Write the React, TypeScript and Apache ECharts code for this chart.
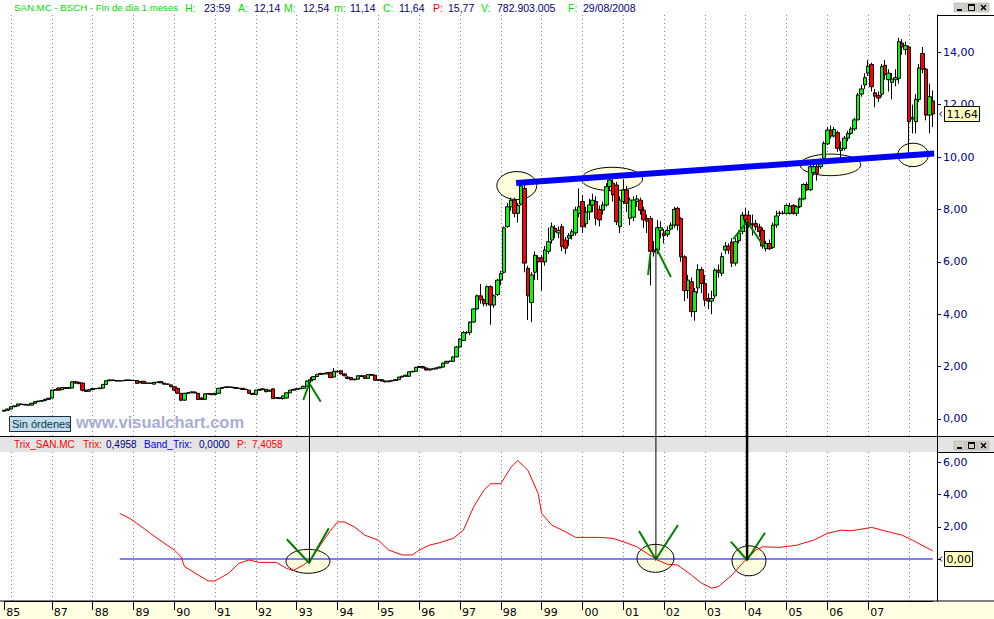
import { useEffect, useRef } from "react";
import * as echarts from "echarts";

// ---------------- data ----------------
const START_YEAR = 1985;
const START_MONTH = 11;
const BAR_COUNT = 274;

const months: string[] = [];
for (let i = 0; i < BAR_COUNT; i++) {
  const m0 = START_MONTH - 1 + i;
  const y = START_YEAR + Math.floor(m0 / 12);
  const m = (m0 % 12) + 1;
  months.push(`${y}-${m < 10 ? "0" + m : m}`);
}

// monthly OHLC, Nov 1985 .. Aug 2008
const opens = [
  0.30, 0.33,
  0.38, 0.47, 0.50, 0.57, 0.56, 0.54, 0.53, 0.60, 0.66, 0.68, 0.70, 0.75,
  0.80, 1.10, 1.18, 1.12, 1.20, 1.17, 1.18, 1.42, 1.40, 1.37, 1.10, 1.06,
  1.12, 1.16, 1.16, 1.18, 1.32, 1.46, 1.49, 1.47, 1.45, 1.46, 1.47, 1.49,
  1.47, 1.47, 1.38, 1.44, 1.37, 1.37, 1.33, 1.40, 1.43, 1.37, 1.33, 1.30,
  1.23, 1.17, 0.98, 0.72, 0.98, 1.00, 1.03, 0.98, 0.80, 0.75, 0.96, 0.96,
  0.93, 0.98, 1.17, 1.20, 1.22, 1.22, 1.20, 1.17, 1.17, 1.13, 1.10, 0.98,
  0.94, 1.10, 1.12, 1.13, 1.06, 1.15, 0.80, 0.81, 0.78, 0.80, 1.00, 1.10,
  1.13, 1.15, 1.17, 1.25, 1.45, 1.50, 1.62, 1.70, 1.74, 1.72, 1.77, 1.60,
  1.82, 1.84, 1.72, 1.60, 1.58, 1.50, 1.52, 1.65, 1.65, 1.55, 1.70, 1.67,
  1.48, 1.50, 1.45, 1.42, 1.45, 1.47, 1.50, 1.60, 1.63, 1.63, 1.80, 1.82,
  1.97, 2.00, 1.95, 1.87, 1.91, 1.91, 1.95, 1.98, 2.13, 2.20, 2.20, 2.37,
  2.75, 3.00, 3.30, 3.30, 3.70, 4.20, 4.70, 4.55, 4.40, 5.05, 4.35, 4.75,
  5.30, 5.60, 7.35, 8.10, 8.36, 7.85, 8.20, 8.80, 5.75, 4.45, 5.60, 6.15,
  6.15, 6.00, 6.40, 6.83, 7.28, 7.10, 7.34, 6.83, 6.90, 7.00, 7.10, 7.85,
  8.30, 7.45, 7.90, 8.17, 8.30, 8.00, 7.97, 8.17, 8.87, 9.00, 8.93, 7.34,
  8.30, 8.74, 7.66, 7.70, 8.30, 8.35, 7.97, 7.65, 7.65, 6.45, 6.45, 7.20,
  7.10, 7.05, 7.25, 7.40, 8.04, 7.65, 6.19, 4.90, 5.24, 4.10, 5.00, 5.70,
  5.17, 4.60, 4.50, 4.70, 5.68, 5.56, 6.45, 6.60, 6.75, 5.95, 6.80, 7.15,
  7.78, 7.78, 7.45, 7.46, 7.33, 7.20, 6.50, 6.70, 6.55, 7.40, 7.85, 7.85,
  7.85, 7.85, 8.15, 7.85, 8.10, 8.40, 8.95, 8.75, 9.40, 9.63, 9.63, 9.95,
  10.50, 11.03, 10.80, 10.93, 10.25, 10.33, 10.72, 10.90, 11.07, 11.42, 12.40, 12.75,
  13.20, 13.53, 12.45, 12.35, 12.40, 13.50, 12.95, 12.85, 12.95, 13.00, 14.35, 14.10,
  14.20, 11.45, 11.35, 12.20, 13.95, 13.35, 11.60, 12.14,
];
const closes = [
  0.33, 0.38,
  0.47, 0.50, 0.57, 0.56, 0.54, 0.53, 0.60, 0.66, 0.68, 0.70, 0.75, 0.79,
  1.10, 1.12, 1.10, 1.20, 1.17, 1.20, 1.42, 1.37, 1.35, 1.10, 1.05, 1.12,
  1.16, 1.16, 1.18, 1.32, 1.46, 1.49, 1.47, 1.45, 1.46, 1.47, 1.49, 1.47,
  1.47, 1.36, 1.43, 1.36, 1.37, 1.36, 1.40, 1.40, 1.38, 1.33, 1.33, 1.23,
  1.10, 0.98, 0.72, 0.98, 1.00, 1.03, 1.00, 0.75, 0.75, 0.96, 0.96, 0.93,
  0.98, 1.17, 1.20, 1.22, 1.22, 1.20, 1.17, 1.17, 1.13, 1.13, 0.98, 0.94,
  1.10, 1.13, 1.15, 1.04, 1.10, 0.78, 0.81, 0.78, 0.88, 1.00, 1.10, 1.13,
  1.15, 1.17, 1.25, 1.45, 1.50, 1.62, 1.70, 1.74, 1.72, 1.77, 1.58, 1.82,
  1.80, 1.72, 1.65, 1.55, 1.50, 1.52, 1.65, 1.62, 1.55, 1.70, 1.67, 1.48,
  1.50, 1.45, 1.42, 1.45, 1.47, 1.50, 1.60, 1.63, 1.67, 1.80, 1.82, 1.97,
  2.00, 1.95, 1.87, 1.91, 1.91, 1.95, 1.98, 2.13, 2.20, 2.20, 2.37, 2.75,
  3.05, 3.30, 3.30, 3.70, 4.20, 4.70, 4.55, 4.40, 5.05, 4.35, 4.70, 5.30,
  5.55, 7.30, 8.10, 8.35, 7.85, 8.15, 8.90, 5.95, 4.70, 5.50, 6.25, 6.00,
  6.00, 6.45, 6.77, 7.34, 7.15, 7.20, 6.58, 6.52, 7.00, 7.15, 7.98, 8.10,
  7.34, 7.90, 8.17, 8.35, 7.66, 7.60, 8.17, 8.87, 9.12, 8.55, 7.53, 8.36,
  8.74, 8.23, 8.36, 8.36, 8.40, 7.97, 7.60, 7.55, 6.40, 6.37, 7.30, 7.30,
  7.00, 7.20, 7.40, 8.00, 7.40, 6.19, 4.90, 5.30, 4.10, 4.86, 5.70, 5.17,
  4.54, 4.50, 4.60, 5.68, 5.60, 6.20, 6.60, 6.45, 5.95, 6.77, 7.10, 7.78,
  7.60, 7.47, 7.40, 7.33, 7.15, 6.60, 6.70, 6.50, 7.40, 7.75, 7.85, 7.85,
  8.15, 8.12, 7.85, 8.10, 8.40, 8.95, 8.75, 9.63, 9.63, 9.37, 9.88, 10.52,
  11.03, 10.80, 11.05, 10.33, 10.33, 10.72, 10.90, 11.07, 11.42, 12.37, 12.60, 13.03,
  13.47, 12.68, 12.32, 12.25, 13.45, 13.15, 13.20, 12.97, 13.03, 14.40, 14.20, 14.25,
  11.35, 11.50, 12.20, 13.40, 13.35, 11.60, 12.30, 11.64,
];
const lows = [
  0.28, 0.32,
  0.37, 0.45, 0.49, 0.54, 0.52, 0.51, 0.52, 0.59, 0.64, 0.67, 0.69, 0.74,
  0.79, 1.07, 1.08, 1.10, 1.14, 1.15, 1.17, 1.35, 1.33, 1.05, 1.03, 1.05,
  1.10, 1.14, 1.15, 1.17, 1.31, 1.45, 1.46, 1.44, 1.44, 1.45, 1.46, 1.46,
  1.45, 1.35, 1.37, 1.35, 1.35, 1.35, 1.32, 1.38, 1.37, 1.32, 1.31, 1.22,
  1.08, 0.96, 0.68, 0.70, 0.96, 0.99, 0.98, 0.73, 0.72, 0.74, 0.94, 0.91,
  0.92, 0.97, 1.16, 1.19, 1.20, 1.19, 1.16, 1.15, 1.12, 1.11, 0.97, 0.92,
  0.93, 1.09, 1.11, 1.03, 1.05, 0.76, 0.78, 0.76, 0.74, 0.78, 0.99, 1.09,
  1.12, 1.14, 1.16, 1.24, 1.38, 1.49, 1.60, 1.68, 1.70, 1.71, 1.56, 1.59,
  1.78, 1.70, 1.63, 1.52, 1.48, 1.48, 1.51, 1.60, 1.54, 1.54, 1.65, 1.46,
  1.45, 1.43, 1.40, 1.41, 1.44, 1.46, 1.49, 1.59, 1.62, 1.62, 1.78, 1.81,
  1.95, 1.93, 1.85, 1.86, 1.89, 1.90, 1.93, 1.97, 2.12, 2.18, 2.19, 2.36,
  2.73, 2.98, 3.25, 3.20, 3.68, 4.18, 4.40, 4.30, 4.30, 3.60, 4.25, 4.70,
  5.10, 5.55, 7.30, 7.95, 7.70, 7.50, 8.15, 5.60, 3.78, 3.70, 5.30, 5.30,
  4.90, 5.85, 6.30, 6.70, 6.90, 6.90, 6.40, 6.30, 6.60, 6.85, 7.00, 7.70,
  7.10, 7.30, 7.60, 7.90, 7.40, 7.35, 7.80, 8.10, 8.70, 8.30, 7.40, 7.10,
  8.20, 7.90, 7.40, 7.55, 8.10, 7.80, 7.30, 7.10, 5.10, 6.20, 6.30, 6.90,
  6.70, 6.95, 7.20, 7.30, 7.20, 6.00, 4.50, 4.60, 3.90, 3.75, 4.80, 4.80,
  4.30, 4.20, 4.00, 4.60, 5.40, 5.45, 6.30, 6.30, 5.80, 5.85, 6.70, 7.05,
  7.40, 7.30, 7.00, 7.20, 6.95, 6.50, 6.40, 6.45, 6.50, 7.30, 7.75, 7.80,
  7.80, 7.80, 7.80, 7.75, 8.05, 8.35, 8.70, 8.70, 9.30, 9.10, 9.55, 9.90,
  10.45, 10.70, 10.75, 10.20, 9.80, 10.25, 10.60, 10.85, 11.00, 11.40, 12.30, 12.60,
  13.10, 12.50, 11.90, 12.10, 12.30, 12.95, 12.50, 12.20, 12.70, 12.80, 13.90, 13.90,
  10.10, 10.90, 10.90, 12.10, 13.20, 11.40, 10.90, 11.14,
];
const highs = [
  0.35, 0.40,
  0.49, 0.52, 0.59, 0.59, 0.57, 0.55, 0.61, 0.67, 0.70, 0.72, 0.77, 0.81,
  1.12, 1.15, 1.20, 1.22, 1.22, 1.22, 1.44, 1.45, 1.42, 1.39, 1.12, 1.14,
  1.17, 1.18, 1.20, 1.34, 1.48, 1.51, 1.50, 1.48, 1.47, 1.48, 1.50, 1.50,
  1.49, 1.48, 1.44, 1.45, 1.38, 1.38, 1.41, 1.42, 1.44, 1.38, 1.35, 1.31,
  1.24, 1.18, 0.99, 1.00, 1.02, 1.05, 1.04, 0.99, 0.82, 0.97, 0.98, 0.97,
  1.00, 1.19, 1.22, 1.24, 1.24, 1.23, 1.21, 1.19, 1.18, 1.15, 1.11, 0.99,
  1.12, 1.15, 1.17, 1.14, 1.12, 1.16, 0.83, 0.82, 0.89, 1.01, 1.11, 1.15,
  1.17, 1.19, 1.27, 1.47, 1.60, 1.64, 1.72, 1.76, 1.76, 1.79, 1.80, 1.95,
  1.86, 1.85, 1.74, 1.62, 1.59, 1.54, 1.66, 1.67, 1.66, 1.71, 1.72, 1.68,
  1.52, 1.51, 1.47, 1.47, 1.49, 1.52, 1.61, 1.65, 1.69, 1.81, 1.84, 1.99,
  2.03, 2.02, 1.97, 1.93, 1.93, 1.97, 2.00, 2.15, 2.22, 2.23, 2.39, 2.78,
  3.08, 3.35, 3.35, 3.72, 4.22, 4.75, 5.15, 4.60, 5.10, 5.10, 4.75, 5.35,
  5.65, 7.35, 8.25, 8.45, 8.45, 8.25, 9.10, 8.95, 5.85, 5.60, 6.40, 6.25,
  6.25, 6.60, 7.30, 7.50, 7.40, 7.35, 7.45, 6.95, 7.10, 7.25, 8.10, 8.80,
  8.55, 8.10, 8.40, 8.60, 8.50, 8.15, 8.30, 9.00, 9.25, 9.20, 9.05, 8.50,
  9.15, 8.90, 8.45, 8.50, 8.55, 8.45, 8.10, 7.80, 7.75, 6.80, 7.60, 7.55,
  7.25, 7.35, 7.50, 8.10, 8.10, 7.70, 6.25, 5.50, 5.40, 5.00, 5.90, 5.80,
  5.50, 4.80, 4.90, 5.75, 5.90, 6.35, 6.75, 6.70, 6.90, 6.90, 7.20, 7.90,
  8.05, 7.95, 7.80, 7.60, 7.45, 7.30, 6.80, 6.85, 7.50, 7.95, 7.95, 7.95,
  8.20, 8.25, 8.20, 8.15, 8.45, 9.00, 9.05, 9.70, 9.75, 9.80, 9.95, 10.60,
  11.15, 11.20, 11.15, 11.00, 10.60, 10.80, 11.00, 11.15, 11.50, 12.45, 12.75, 13.20,
  13.70, 13.60, 12.60, 12.50, 13.55, 13.70, 13.35, 13.20, 13.35, 14.55, 14.50, 14.40,
  14.25, 12.00, 12.40, 13.55, 14.20, 13.40, 12.80, 12.54,
];

// Trix indicator, read at bar indexes
const trixIdx = [
  34, 37, 41, 45, 50, 52, 53, 57, 60, 62, 66, 69, 72, 75, 80, 83, 85, 88, 90, 92,
  96, 98, 100, 103, 106, 110, 113, 117, 120, 122, 125, 128, 132, 135, 138, 141, 143, 146, 149, 151,
  154, 157, 158, 161, 165, 168, 172, 175, 179, 182, 186, 189, 192, 195, 198, 202, 205, 208, 210, 214,
  217, 221, 223, 228, 233, 238, 242, 246, 249, 255, 260, 264, 267, 273,
];
const trixVal = [
  2.82, 2.51, 1.9, 1.28, 0.56, 0.14, -0.47, -0.99, -1.36, -1.36, -0.88, -0.27, -0.06, -0.21, -0.21, -0.58, -0.72, -0.37, -0.06, 0.56,
  1.79, 2.3, 2.3, 1.99, 1.48, 1.17, 0.56, 0.25, 0.25, 0.56, 0.86, 1.01, 1.28, 1.79, 3.23, 4.26, 4.67, 4.67, 5.7, 6.11,
  5.49, 4.05, 2.82, 2.1, 1.69, 1.34, 1.34, 1.34, 1.28, 1.07, 0.76, 0.35, -0.06, -0.33, -0.37, -0.99, -1.5, -1.81, -1.71, -0.99,
  -0.27, 0.56, 0.76, 0.72, 0.86, 1.17, 1.59, 1.79, 1.75, 1.96, 1.69, 1.48, 1.17, 0.5,
];
const bandIdx = [34, 273];
const bandVal = [0, 0];

const priceTicks = [0, 2, 4, 6, 8, 10, 12, 14];
const trixTicks = [0, 2, 4, 6];
const trixLabelTicks = [2, 4, 6];
const lastClose = 11.64;
const lastTrixBand = 0;

// annotations, in (bar index, value) space
const topEllipses = [
  [150.7, 8.91, 20, 14],
  [178.7, 9.16, 30.5, 11.7],
  [242.9, 9.7, 30.3, 10.8],
  [267.2, 10.08, 15.3, 11.7],
];
const trendLine = [[150.5, 9.01], [273.4, 10.13]];
const topGreenMarks = [
  [[87.93, 0.725], [89.7, 1.363], [93.05, 0.66]],
  [[190.0, 6.336], [189.3, 5.496]],
  [[191.8, 6.508], [196.0, 5.42]],
  [[214.3, 6.87], [218.4, 7.531], [223.4, 6.576]],
];
const botEllipses = [
  [89.31, -0.143, 22, 12],
  [191.47, 0.043, 18.5, 14],
  [218.96, -0.112, 17, 15],
];
const botGreenMarks = [
  [[83.08, 1.222], [89.61, -0.23], [95.43, 1.904]],
  [[186.62, 1.737], [191.56, -0.019], [198.09, 2.109]],
  [[213.61, 1.073], [218.37, -0.062], [223.67, 1.632]],
];
const connectors = [
  [89.75, 1.374, -0.186, 1],
  [191.6, 6.527, 0, 1],
  [218.4, 7.531, -0.062, 2.5],
];

// header texts: [text, colour key, x, font size]
const GREEN = "#00dd00";
const NAVY = "#000080";
const titleParts: [string, string, number, number][] = [
  ["SAN.MC - BSCH - Fin de día 1 meses", "g", 14, 9.7],
  ["H:", "g", 185, 10.5], ["23:59", "n", 204, 10.5],
  ["A:", "g", 238, 10.5], ["12,14", "n", 254, 10.5],
  ["M:", "g", 284, 10.5], ["12,54", "n", 303, 10.5],
  ["m:", "g", 334, 10.5], ["11,14", "n", 350, 10.5],
  ["C:", "g", 383, 10.5], ["11,64", "n", 399, 10.5],
  ["P:", "r", 433, 10.5], ["15,77", "n", 448, 10.5],
  ["V:", "g", 481, 10.5], ["782.903.005", "n", 497, 10.5],
  ["F:", "g", 568, 10.5], ["29/08/2008", "n", 583, 10.5],
];
const trixParts: [string, string, number, number][] = [
  ["Trix_SAN.MC", "r", 14, 10],
  ["Trix:", "r", 83, 10], ["0,4958", "n", 106, 10],
  ["Band_Trix:", "b", 144, 10], ["0,0000", "n", 199, 10],
  ["P:", "r", 237, 10], ["7,4058", "r", 252, 10],
];
const COLORS: Record<string, string> = { g: GREEN, n: NAVY, r: "#ff0000", b: "#0000ff" };

const AX_FONT = "DejaVu Sans";
const HDR_FONT = "Liberation Sans";

const fmt = (v: number) => v.toFixed(2).replace(".", ",");
const isJan = (i: number) => months[i].endsWith("-01");
const showYear = (i: number) => {
  if (i === 0) return true;
  const y = +months[i].slice(0, 4);
  return isJan(i) && y >= 1987 && y <= 2007;
};

function winButtons(y: number) {
  const els: any[] = [];
  for (let k = 0; k < 3; k++) {
    const x = 954 + k * 12;
    els.push({ type: "rect", shape: { x, y, width: 11, height: 9 }, style: { fill: "#d4d0c8", stroke: "#a0a0a0", lineWidth: 0.5 }, z: 20 });
    if (k === 0) els.push({ type: "rect", shape: { x: x + 3, y: y + 6, width: 5, height: 2 }, style: { fill: "#000" }, z: 21 });
    if (k === 1) {
      els.push({ type: "rect", shape: { x: x + 2.5, y: y + 1.5, width: 6, height: 6 }, style: { fill: "none", stroke: "#000", lineWidth: 1 }, z: 21 });
      els.push({ type: "rect", shape: { x: x + 2, y: y + 1, width: 7, height: 2 }, style: { fill: "#000" }, z: 21 });
    }
    if (k === 2) {
      els.push({ type: "line", shape: { x1: x + 3, y1: y + 2, x2: x + 8, y2: y + 7 }, style: { stroke: "#000", lineWidth: 1.5 }, z: 21 });
      els.push({ type: "line", shape: { x1: x + 8, y1: y + 2, x2: x + 3, y2: y + 7 }, style: { stroke: "#000", lineWidth: 1.5 }, z: 21 });
    }
  }
  return els;
}

export default function App() {
  const ref = useRef<HTMLDivElement>(null);
  useEffect(() => {
    if (!ref.current) return;
    const chart = echarts.init(ref.current, undefined, { renderer: "svg" });
    const candles = months.map((_, i) => [opens[i], closes[i], lows[i], highs[i]]);
    const trixData = trixIdx.map((x, i) => [x, trixVal[i]]);
    const bandData = bandIdx.map((x, i) => [x, bandVal[i]]);
    const splitStyle = { color: "#8a8a8a", type: [1, 3], width: 1 };

    const option: any = {
      animation: false,
      backgroundColor: "#ffffff",
      grid: [
        { left: 4.2, right: 61.2, top: 15, height: 421 },
        { left: 4.2, right: 61.2, top: 452, height: 149 },
      ],
      xAxis: [
        {
          type: "category", gridIndex: 0, data: months, boundaryGap: false,
          axisLine: { show: false, onZero: false }, axisTick: { show: false }, axisLabel: { show: false },
          splitLine: { show: true, interval: (i: number) => isJan(i), lineStyle: splitStyle },
        },
        {
          type: "category", gridIndex: 1, data: months, boundaryGap: false, position: "bottom",
          axisLine: { show: true, onZero: false, lineStyle: { color: "#000", width: 1 } },
          axisTick: { show: true, interval: (i: number) => showYear(i), length: 9, lineStyle: { color: "#000" } },
          axisLabel: {
            show: true, interval: (i: number) => showYear(i), formatter: (v: string) => v.slice(2, 4),
            color: "#000", fontFamily: AX_FONT, fontSize: 11, align: "left", margin: 6, padding: [0, 0, 0, 2],
          },
          splitLine: { show: true, interval: (i: number) => isJan(i), lineStyle: splitStyle },
        },
      ],
      yAxis: [
        {
          type: "value", gridIndex: 0, position: "right", offset: 4.2, min: -0.649, max: 15.42,
          axisLine: { show: true, lineStyle: { color: "#000" } },
          axisTick: { show: true, customValues: priceTicks, length: 4, lineStyle: { color: NAVY } },
          axisLabel: { show: true, customValues: priceTicks, formatter: fmt, color: NAVY, fontFamily: AX_FONT, fontSize: 11, margin: 6 },
          splitLine: { show: false },
        },
        {
          type: "value", gridIndex: 1, position: "right", offset: 4.2, min: -2.605, max: 6.638,
          axisLine: { show: true, lineStyle: { color: "#000" } },
          axisTick: { show: true, customValues: trixTicks, length: 4, lineStyle: { color: NAVY } },
          axisLabel: { show: true, customValues: trixLabelTicks, formatter: fmt, color: NAVY, fontFamily: AX_FONT, fontSize: 11, margin: 6 },
          splitLine: { show: false },
        },
      ],
      series: [
        {
          type: "candlestick", xAxisIndex: 0, yAxisIndex: 0, data: candles, barWidth: 4, clip: false,
          itemStyle: { color: "#00ff00", color0: "#ff0000", borderColor: "#000", borderColor0: "#000", borderWidth: 1 },
          z: 2,
        },
        {
          type: "line", xAxisIndex: 1, yAxisIndex: 1, data: bandData, symbol: "none",
          lineStyle: { color: "#0000ff", width: 1 }, z: 2,
        },
        {
          type: "line", xAxisIndex: 1, yAxisIndex: 1, data: trixData, symbol: "none",
          lineStyle: { color: "#ff0000", width: 1 }, z: 3,
        },
      ],
    };
    chart.setOption(option);

    const toPx = (k: number, i: number, v: number) => {
      const a = chart.convertToPixel({ xAxisIndex: k, yAxisIndex: k } as any, [0, v]) as number[];
      const b = chart.convertToPixel({ xAxisIndex: k, yAxisIndex: k } as any, [1, v]) as number[];
      return [a[0] + (b[0] - a[0]) * i, a[1]];
    };

    const g: any[] = [];
    // chrome
    g.push({ type: "rect", shape: { x: 0, y: 437, width: 994, height: 15 }, style: { fill: "#e4e4e4" }, z: 0 });
    g.push({ type: "rect", shape: { x: 0, y: 601.5, width: 994, height: 18 }, style: { fill: "#ffffe1" }, z: 0 });
    g.push({ type: "line", shape: { x1: 0, y1: 436.5, x2: 994, y2: 436.5 }, style: { stroke: "#000", lineWidth: 1 }, z: 4 });
    g.push({ type: "line", shape: { x1: 0, y1: 601, x2: 994, y2: 601 }, style: { stroke: "#000", lineWidth: 1 }, z: 4 });
    g.push({ type: "line", shape: { x1: 937, y1: 15.5, x2: 994, y2: 15.5 }, style: { stroke: "#000", lineWidth: 1 }, z: 4 });
    g.push({ type: "line", shape: { x1: 937, y1: 452.5, x2: 994, y2: 452.5 }, style: { stroke: "#000", lineWidth: 1 }, z: 4 });
    g.push({ type: "line", shape: { x1: 937.5, y1: 436, x2: 937.5, y2: 452 }, style: { stroke: "#000", lineWidth: 1 }, z: 4 });
    g.push(...winButtons(3));
    g.push(...winButtons(441));
    titleParts.forEach(([t, k, x, fs]) => {
      g.push({ type: "text", x, y: 2, style: { text: t, fill: COLORS[k], font: `${fs}px '${HDR_FONT}'`, verticalAlign: "top" }, z: 20 });
    });
    trixParts.forEach(([t, k, x, fs]) => {
      g.push({ type: "text", x, y: 439.5, style: { text: t, fill: COLORS[k], font: `${fs}px '${HDR_FONT}'`, verticalAlign: "top" }, z: 20 });
    });
    // Sin órdenes + watermark
    g.push({ type: "rect", shape: { x: 9.5, y: 416.5, width: 61, height: 15 }, style: { fill: "#c4dcec", stroke: "#1c2a40", lineWidth: 1 }, z: 8 });
    g.push({ type: "text", x: 12, y: 424, style: { text: "Sin órdenes", fill: "#00384f", font: `11px '${HDR_FONT}'`, verticalAlign: "middle" }, z: 9 });
    g.push({ type: "text", x: 76, y: 422, style: { text: "www.visualchart.com", fill: "#a8add6", font: `bold 16.5px '${HDR_FONT}'`, verticalAlign: "middle" }, z: 8 });

    // annotations top
    topEllipses.forEach(([i, v, rx, ry]) => {
      const [cx, cy] = toPx(0, i, v);
      g.push({ type: "ellipse", shape: { cx, cy, rx, ry }, style: { fill: "#ffffe0", stroke: "#000", lineWidth: 1 }, z: 1 });
    });
    {
      const [x1, y1] = toPx(0, trendLine[0][0], trendLine[0][1]);
      const [x2, y2] = toPx(0, trendLine[1][0], trendLine[1][1]);
      g.push({ type: "line", shape: { x1, y1, x2, y2 }, style: { stroke: "#0000ff", lineWidth: 6 }, z: 5 });
    }
    topGreenMarks.forEach((pts) => {
      g.push({ type: "polyline", shape: { points: pts.map(([i, v]) => toPx(0, i, v)) }, style: { stroke: "#008000", lineWidth: 2, fill: "none" }, z: 6 });
    });
    // annotations bottom
    botEllipses.forEach(([i, v, rx, ry]) => {
      const [cx, cy] = toPx(1, i, v);
      g.push({ type: "ellipse", shape: { cx, cy, rx, ry }, style: { fill: "#ffffe0", stroke: "#000", lineWidth: 1 }, z: 1 });
    });
    botGreenMarks.forEach((pts) => {
      g.push({ type: "polyline", shape: { points: pts.map(([i, v]) => toPx(1, i, v)) }, style: { stroke: "#008000", lineWidth: 2, fill: "none" }, z: 6 });
    });
    connectors.forEach(([i, vt, vb, w]) => {
      const [x, y1] = toPx(0, i, vt);
      const [, y2] = toPx(1, i, vb);
      g.push({ type: "line", shape: { x1: x, y1, x2: x, y2 }, style: { stroke: "#000", lineWidth: w }, z: 7 });
    });
    // last value markers
    const markers: [number, number, string][] = [
      [0, lastClose, fmt(lastClose)],
      [1, lastTrixBand, fmt(lastTrixBand)],
    ];
    markers.forEach(([k, v, txt]) => {
      const [, y] = toPx(k, 0, v);
      const w = txt.length > 4 ? 35 : 28;
      g.push({ type: "rect", shape: { x: 944.5, y: Math.round(y) - 7.5, width: w, height: 15 }, style: { fill: "#ffffc0", stroke: "#000", lineWidth: 1 }, z: 12 });
      g.push({ type: "text", x: 946.5, y: Math.round(y) + 0.5, style: { text: txt, fill: "#000", font: `11px '${AX_FONT}'`, verticalAlign: "middle" }, z: 13 });
      g.push({ type: "polyline", shape: { points: [[942, y - 2.5], [939.5, y], [942, y + 2.5]] }, style: { stroke: "#000", lineWidth: 1, fill: "none" }, z: 13 });
    });

    chart.setOption({ graphic: g });
    return () => chart.dispose();
  }, []);
  return <div ref={ref} style={{ position: "absolute", left: 0, top: 0, width: 994, height: 619 }} />;
}
